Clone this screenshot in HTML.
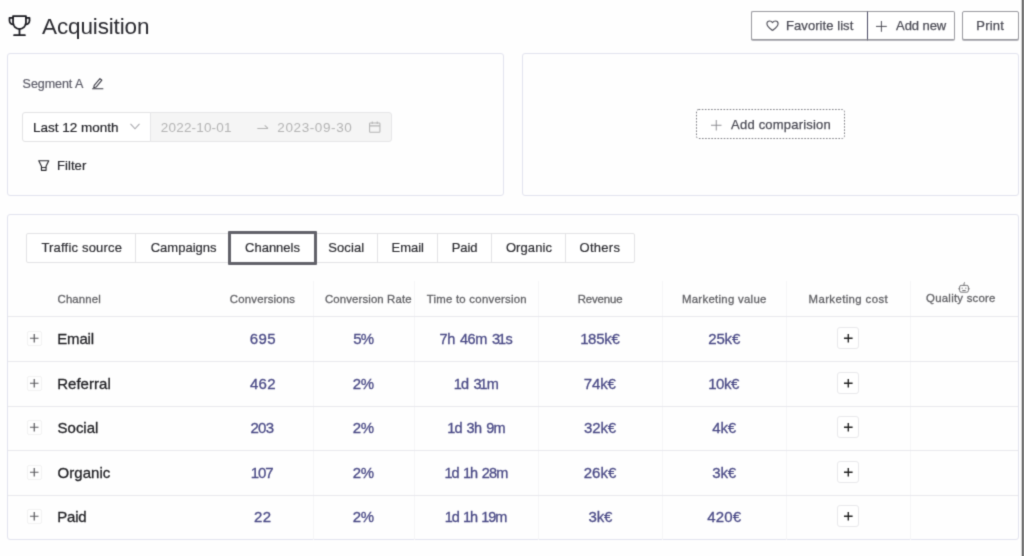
<!DOCTYPE html>
<html lang="en">
<head>
<meta charset="utf-8">
<title>Acquisition</title>
<style>
  * { box-sizing: border-box; margin: 0; padding: 0; }
  html, body { width: 1024px; height: 556px; overflow: hidden; background: #fefefe; }
  body { font-family: "Liberation Sans", sans-serif; color: #222; position: relative; }
  #clip { position: absolute; left: 0; top: 0; width: 1024px; height: 556px; overflow: hidden; }
  #wrap { position: absolute; left: -8px; top: -8px; width: 1040px; height: 572px; background: #fefefe; filter: url(#soft); }
  #in { position: absolute; left: 8px; top: 8px; width: 1024px; height: 556px; }
  .t { position: absolute; white-space: nowrap; line-height: 1; }
  .x { position: relative; }
  svg { position: absolute; overflow: visible; }

  /* right edge bar */
  .edge { position: absolute; left: 1021px; top: -8px; width: 11px; height: 572px; background: linear-gradient(to right, #d9d9d9 0, #d9d9d9 1px, #5c5c5c 1px, #5c5c5c 2px, #858585 2px, #858585 11px); }

  /* header */
  h1 { position: absolute; left: 42px; top: 13.600px; font-size: 22.5px; font-weight: 400; line-height: 26px; color: #2a2a30; white-space: nowrap; }
  .btn { position: absolute; top: 11px; height: 29px; border: 1px solid #98989e; background: #fff; color: #4b4b55; font-size: 13px; box-shadow: 0 1px 0 rgba(110,110,120,.5); -webkit-text-stroke: 0.25px #4b4b55; }
  .btn .bl { position: absolute; top: 6px; line-height: 15px; white-space: nowrap; }
  #b-fav { left: 751px; width: 117px; border-radius: 2px 0 0 2px; border-right-color: #4d4d66; }
  #b-add { left: 867px; width: 88px; border-radius: 0 2px 2px 0; border-left-color: #4d4d66; }
  #b-print { left: 962px; width: 57px; border-radius: 2px; }

  /* cards */
  .card { position: absolute; border: 1px solid #e2e3ee; border-radius: 3px; background: #fefefe; }
  #c1 { left: 7px; top: 53px; width: 497px; height: 143px; }
  #c2 { left: 522px; top: 53px; width: 497px; height: 143px; }
  #c3 { left: 7px; top: 214px; width: 1012px; height: 326px; }

  /* card 1 */
  #seg { left: 15px; top: 24px; font-size: 12.5px; color: #5c5c68; -webkit-text-stroke: 0.2px #5c5c68; }
  #sel { position: absolute; left: 14px; top: 58px; width: 129px; height: 30px; border: 1px solid #e2e2e4; border-radius: 3px 0 0 3px; background: #fff; }
  #sel .t { left: 11px; top: 8px; font-size: 13.5px; color: #26262b; -webkit-text-stroke: 0.2px #26262b; }
  #dates { position: absolute; left: 142px; top: 58px; width: 242px; height: 30px; border: 1px solid #e6e6e8; border-radius: 0 3px 3px 0; background: #f5f5f5; color: #b4b4b4; font-size: 13.5px; }
  #d1 { left: 11px; top: 8px; font-size: 13.5px; }
  #d2 { left: 127px; top: 8px; font-size: 13.5px; }
  #filter { left: 49px; top: 105px; font-size: 13px; color: #2b2b30; -webkit-text-stroke: 0.2px #2b2b30; }

  /* card 2 */
  #cmp { position: absolute; left: 173px; top: 55px; width: 149px; height: 30px; border: 0; border-radius: 3px; background: #fff; color: #4b4b55; font-size: 13px; -webkit-text-stroke: 0.25px #4b4b55; }
  #cmp .t { left: 35px; top: 8.500px; }

  /* tabs */
  #tabs { position: absolute; left: 18px; top: 18px; width: 609px; height: 30px; border: 1px solid #e3e3e5; border-radius: 2px; background: #fff; }
  #tabs div { position: absolute; top: 0; height: 28px; line-height: 28px; font-size: 13px; color: #2e2e33; -webkit-text-stroke: 0.2px #2e2e33; border-left: 1px solid #e3e3e5; white-space: nowrap; text-align: center; }
  #tabs div:first-child { border-left: 0; }
  #tabs div.on { top: -3px; height: 34px; line-height: 28px; border: 3px solid #62626a; border-radius: 1px; background: #fff; z-index: 2; }

  /* table */
  .vline { position: absolute; top: 66px; width: 1px; height: 259px; background: #f5f5f7; }
  .hline { position: absolute; left: 0; width: 1010px; height: 1px; background: #e9e9ed; }
  .th { position: absolute; top: 78px; font-size: 11.4px; color: #626266; -webkit-text-stroke: 0.3px #626266; white-space: nowrap; line-height: 13px; text-align: center; }
  .row { position: absolute; left: 0; width: 1010px; height: 44px; }
  .row .exp { position: absolute; left: 19px; top: 14px; width: 15px; height: 15px; border: 1px solid #f2f2f2; border-radius: 2px; }
  .row .name { position: absolute; left: 49px; top: 13px; font-size: 15px; line-height: 17px; color: #1f1f23; white-space: nowrap; -webkit-text-stroke: 0.3px #1f1f23; }
  .row .v { position: absolute; top: 13px; font-size: 15px; line-height: 17px; color: #4a4a86; white-space: nowrap; text-align: center; -webkit-text-stroke: 0.3px #4a4a86; }
  .row .v.tm { font-size: 14.5px; top: 14px; }
  .row .plus { position: absolute; left: 829px; top: 10px; width: 22px; height: 22px; border: 1px solid #e9e9eb; border-radius: 3px; background: #fff; }
  .o { margin: 0 -0.2px 0 -1.5px; }
  .o.p { margin-left: -0.4px; }
</style>
</head>
<body>
<svg width="0" height="0" style="left:0;top:0" aria-hidden="true">
  <filter id="soft" x="0" y="0" width="100%" height="100%" color-interpolation-filters="sRGB">
    <feConvolveMatrix order="3" kernelMatrix="0.0225 0.105 0.0225 0.105 0.49 0.105 0.0225 0.105 0.0225" edgeMode="duplicate" preserveAlpha="true"/>
  </filter>
</svg>
<div id="clip"><div id="wrap"><div id="in">

<!-- header -->
<svg style="left:6.5px;top:12.5px" width="25" height="25" viewBox="0 0 24 24" fill="none" stroke="#1c1c22" stroke-width="1.700" stroke-linecap="round" stroke-linejoin="round">
  <path d="M5.800 2.900h12.400v6.300a6.200 6.200 0 0 1-12.400 0z"/>
  <path d="M5.800 4.700H2.400v2.400a3.700 3.700 0 0 0 3.800 3.900"/>
  <path d="M18.200 4.700h3.400v2.400a3.700 3.700 0 0 1-3.800 3.900"/>
  <path d="M12 15.400v5.700M6.800 21.300h10.400"/>
</svg>
<h1><span class="x" id="title" style="letter-spacing:-0.13px">Acquisition</span></h1>

<div class="btn" id="b-fav">
  <svg style="left:13.500px;top:7.500px" width="13" height="11.200" viewBox="0 0 14 12" fill="none" stroke="#4b4b55" stroke-width="1.200" stroke-linejoin="round">
    <path d="M7 11.200C4.600 9.300 1 7 1 3.900 1 2.200 2.300 1 3.900 1 5.200 1 6.300 1.700 7 2.800 7.700 1.700 8.800 1 10.100 1 11.700 1 13 2.200 13 3.900 13 7 9.400 9.300 7 11.200z"/>
  </svg>
  <span class="bl" style="left:34px"><span class="x" id="fav" style="letter-spacing:0.07px">Favorite list</span></span>
</div>
<div class="btn" id="b-add">
  <svg style="left:7.600px;top:9.400px" width="10.800" height="10.800" viewBox="0 0 11 11" stroke="#4b4b55" stroke-width="1"><path d="M5.500 0v11M0 5.500h11"/></svg>
  <span class="bl" style="left:28px"><span class="x" id="add" style="letter-spacing:-0.08px;left:0.1px">Add new</span></span>
</div>
<div class="btn" id="b-print"><span class="bl" style="left:14px"><span class="x" id="print" style="letter-spacing:0.18px;left:-0.7px">Print</span></span></div>

<!-- card 1 : segment -->
<div class="card" id="c1">
  <span class="t" id="seg"><span class="x" id="segt" style="letter-spacing:-0.06px;left:-0.4px">Segment A</span></span>
  <svg style="left:84px;top:22.500px" width="11.500" height="12.500" viewBox="0 0 12 13" fill="none" stroke="#3a3a44" stroke-width="1.100" stroke-linejoin="round" stroke-linecap="round">
    <path d="M2.300 8.800 8.300 1.600l2 1.700-6 7.200-2.500.6z"/>
    <path d="M.6 12.300h10.800"/>
  </svg>
  <div id="sel">
    <span class="t"><span class="x" id="last" style="letter-spacing:0.01px;left:-1.1px">Last 12 month</span></span>
    <svg style="left:107px;top:10px" width="10" height="7" viewBox="0 0 10 7" fill="none" stroke="#a9a9ad" stroke-width="1.100"><path d="M.5.800 5 5.800 9.500.8"/></svg>
  </div>
  <div id="dates">
    <span class="t" id="d1"><span class="x" id="date1" style="letter-spacing:0.18px;left:-1.2px">2022-10-01</span></span>
    <svg style="left:106px;top:11.200px" width="11.500" height="6" viewBox="0 0 12 6" fill="none" stroke="#b4b4b4" stroke-width="1.100"><path d="M.3 4.500h11.200M8 1.200l3.500 3.300"/></svg>
    <span class="t" id="d2"><span class="x" id="date2" style="letter-spacing:0.60px;left:-0.7px">2023-09-30</span></span>
    <svg style="left:217.500px;top:8px" width="11.500" height="12" viewBox="0 0 12 12" fill="none" stroke="#b4b4b4" stroke-width="1.100"><rect x=".6" y="1.800" width="10.800" height="9.600" rx=".8"/><path d="M.6 4.800h10.800M3.400.3v2.600M8.600.3v2.600"/></svg>
  </div>
  <svg style="left:29.500px;top:106px" width="11.500" height="11.500" viewBox="0 0 12 12" fill="none" stroke="#2b2b30" stroke-width="1.200" stroke-linejoin="round"><path d="M.8.800h10.400L8.400 6.400v4.400H3.600V6.400z"/><path d="M3.600 7.800h4.800" stroke-width="1"/></svg>
  <span class="t" id="filter"><span class="x" id="filt" style="letter-spacing:0.07px">Filter</span></span>
</div>

<!-- card 2 : comparison -->
<div class="card" id="c2">
  <div id="cmp">
    <svg style="left:0;top:0" width="149" height="30" viewBox="0 0 149 30" fill="none"><rect x=".5" y=".5" width="148" height="29" rx="2.200" stroke="#7e7e84" stroke-width="1" stroke-dasharray="1.600 1.500"/></svg>
    <svg style="left:14.800px;top:11px" width="10.500" height="10.500" viewBox="0 0 11 11" stroke="#8b8b90" stroke-width="1"><path d="M5.500 0v11M0 5.500h11"/></svg>
    <span class="t"><span class="x" id="cmpt" style="letter-spacing:0.20px;left:0.1px">Add comparision</span></span>
  </div>
</div>

<!-- card 3 : table -->
<div class="card" id="c3">
  <div id="tabs">
    <div style="left:0;width:108px"><span class="x" id="tab0" style="letter-spacing:0.20px;left:0.8px">Traffic source</span></div>
    <div style="left:108px;width:94px"><span class="x" id="tab1" style="letter-spacing:0.02px;left:1.1px">Campaigns</span></div>
    <div class="on" style="left:201px;width:89px"><span class="x" id="tab2">Channels</span></div>
    <div style="left:289px;width:61px;border-left:0"><span class="x" id="tab3" style="letter-spacing:0.10px;left:-0.3px">Social</span></div>
    <div style="left:350px;width:60px"><span class="x" id="tab4" style="letter-spacing:-0.03px;left:0.2px">Email</span></div>
    <div style="left:410px;width:54px"><span class="x" id="tab5" style="letter-spacing:-0.09px;left:0.1px">Paid</span></div>
    <div style="left:464px;width:74px"><span class="x" id="tab6" style="letter-spacing:0.10px;left:0.5px">Organic</span></div>
    <div style="left:538px;width:69px"><span class="x" id="tab7" style="letter-spacing:0.26px;left:-0.1px">Others</span></div>
  </div>

  <div class="vline" style="left:305px"></div>
  <div class="vline" style="left:406px"></div>
  <div class="vline" style="left:530px"></div>
  <div class="vline" style="left:654px"></div>
  <div class="vline" style="left:778px"></div>
  <div class="vline" style="left:902px"></div>

  <div class="th" style="left:49px"><span class="x" id="h0" style="letter-spacing:0.15px;left:0.5px">Channel</span></div>
  <div class="th" style="left:204px;width:101px"><span class="x" id="h1" style="letter-spacing:0.18px">Conversions</span></div>
  <div class="th" style="left:317px"><span class="x" id="h2" style="letter-spacing:0.12px">Conversion Rate</span></div>
  <div class="th" style="left:407px;width:123px"><span class="x" id="h3" style="letter-spacing:0.25px;left:0.3px">Time to conversion</span></div>
  <div class="th" style="left:531px;width:123px"><span class="x" id="h4" style="letter-spacing:-0.10px;left:-0.4px">Revenue</span></div>
  <div class="th" style="left:655px;width:123px"><span class="x" id="h5" style="letter-spacing:0.29px;left:-0.2px">Marketing value</span></div>
  <div class="th" style="left:779px;width:123px"><span class="x" id="h6" style="letter-spacing:0.38px;left:-0.2px">Marketing cost</span></div>
  <div class="th" style="left:903px;width:107px;top:77px"><span class="x" id="h7" style="letter-spacing:0.24px;left:-3.6px">Quality score</span></div>
  <svg style="left:950px;top:67px" width="12" height="11" viewBox="0 0 12 11" fill="none" stroke="#66666a" stroke-width=".9" stroke-linejoin="round"><rect x="1.600" y="3.400" width="8.800" height="6.800" rx="1.600"/><path d="M6 3.400V1.200l1-.8M.2 6.800h1.400M10.400 6.800h1.400M4.200 5.600v1.200M7.800 5.600v1.200M4.300 8.500h3.400"/></svg>

  <div class="hline" style="top:101px"></div>
  <div class="hline" style="top:146px"></div>
  <div class="hline" style="top:191px"></div>
  <div class="hline" style="top:235px"></div>
  <div class="hline" style="top:280px"></div>

  <div class="row" style="top:102px">
    <div class="exp"><svg style="left:2.250px;top:2.250px" width="8.500" height="8.500" viewBox="0 0 9 9" stroke="#5c5c60" stroke-width="1.300"><path d="M4.500 0v9M0 4.500h9"/></svg></div>
    <div class="name"><span class="x" id="n0" style="letter-spacing:-0.14px;left:0.2px">Email</span></div>
    <div class="v" style="left:204px;width:101px"><span class="x" id="v00" style="letter-spacing:0.40px;left:0.4px">695</span></div>
    <div class="v" style="left:306px;width:101px"><span class="x" id="v01" style="letter-spacing:-0.96px;left:-1.3px">5%</span></div>
    <div class="v tm" style="left:407px;width:123px"><span class="x" id="v02" style="letter-spacing:-0.46px;left:-0.6px;word-spacing:1.60px">7h 46m 3<span class="o">1</span>s</span></div>
    <div class="v" style="left:531px;width:123px"><span class="x" id="v03" style="letter-spacing:-0.30px;left:0.1px"><span class="o">1</span>85k€</span></div>
    <div class="v" style="left:655px;width:123px"><span class="x" id="v04" style="letter-spacing:-0.13px;left:-0.3px">25k€</span></div>
    <div class="plus"><svg style="left:5.700px;top:5.700px" width="8.600" height="8.600" viewBox="0 0 9 9" stroke="#222" stroke-width="1.450"><path d="M4.500 0v9M0 4.500h9"/></svg></div>
  </div>
  <div class="row" style="top:147px">
    <div class="exp"><svg style="left:2.250px;top:2.250px" width="8.500" height="8.500" viewBox="0 0 9 9" stroke="#5c5c60" stroke-width="1.300"><path d="M4.500 0v9M0 4.500h9"/></svg></div>
    <div class="name"><span class="x" id="n1" style="letter-spacing:0.03px;left:0.2px">Referral</span></div>
    <div class="v" style="left:204px;width:101px"><span class="x" id="v10" style="letter-spacing:0.19px;left:0.4px">462</span></div>
    <div class="v" style="left:306px;width:101px"><span class="x" id="v11" style="letter-spacing:-0.38px;left:-1.3px">2%</span></div>
    <div class="v tm" style="left:407px;width:123px"><span class="x" id="v12" style="letter-spacing:-0.60px;left:0.3px;word-spacing:1.60px"><span class="o">1</span>d 3<span class="o">1</span>m</span></div>
    <div class="v" style="left:531px;width:123px"><span class="x" id="v13" style="letter-spacing:-0.16px;left:-0.7px">74k€</span></div>
    <div class="v" style="left:655px;width:123px"><span class="x" id="v14" style="letter-spacing:-0.43px;left:-0.1px"><span class="o">1</span>0k€</span></div>
    <div class="plus"><svg style="left:5.700px;top:5.700px" width="8.600" height="8.600" viewBox="0 0 9 9" stroke="#222" stroke-width="1.450"><path d="M4.500 0v9M0 4.500h9"/></svg></div>
  </div>
  <div class="row" style="top:191px">
    <div class="exp"><svg style="left:2.250px;top:2.250px" width="8.500" height="8.500" viewBox="0 0 9 9" stroke="#5c5c60" stroke-width="1.300"><path d="M4.500 0v9M0 4.500h9"/></svg></div>
    <div class="name"><span class="x" id="n2" style="letter-spacing:-0.03px;left:0.6px">Social</span></div>
    <div class="v" style="left:204px;width:101px"><span class="x" id="v20" style="letter-spacing:-0.72px;left:-0.6px">203</span></div>
    <div class="v" style="left:306px;width:101px"><span class="x" id="v21" style="letter-spacing:-0.38px;left:-1.3px">2%</span></div>
    <div class="v tm" style="left:407px;width:123px"><span class="x" id="v22" style="letter-spacing:-0.74px;left:0.3px;word-spacing:1.60px"><span class="o">1</span>d 3h 9m</span></div>
    <div class="v" style="left:531px;width:123px"><span class="x" id="v23" style="letter-spacing:-0.09px;left:-0.5px">32k€</span></div>
    <div class="v" style="left:655px;width:123px"><span class="x" id="v24" style="letter-spacing:-0.15px;left:-0.4px">4k€</span></div>
    <div class="plus"><svg style="left:5.700px;top:5.700px" width="8.600" height="8.600" viewBox="0 0 9 9" stroke="#222" stroke-width="1.450"><path d="M4.500 0v9M0 4.500h9"/></svg></div>
  </div>
  <div class="row" style="top:236px">
    <div class="exp"><svg style="left:2.250px;top:2.250px" width="8.500" height="8.500" viewBox="0 0 9 9" stroke="#5c5c60" stroke-width="1.300"><path d="M4.500 0v9M0 4.500h9"/></svg></div>
    <div class="name"><span class="x" id="n3" style="letter-spacing:0.03px;left:0.6px">Organic</span></div>
    <div class="v" style="left:204px;width:101px"><span class="x" id="v30" style="letter-spacing:-1.00px"><span class="o">1</span>07</span></div>
    <div class="v" style="left:306px;width:101px"><span class="x" id="v31" style="letter-spacing:-0.38px;left:-1.3px">2%</span></div>
    <div class="v tm" style="left:407px;width:123px"><span class="x" id="v32" style="letter-spacing:-0.90px;left:0.2px;word-spacing:1.60px"><span class="o">1</span>d <span class="o p">1</span>h 28m</span></div>
    <div class="v" style="left:531px;width:123px"><span class="x" id="v33" style="letter-spacing:-0.04px;left:-0.5px">26k€</span></div>
    <div class="v" style="left:655px;width:123px"><span class="x" id="v34" style="letter-spacing:-0.19px;left:-0.4px">3k€</span></div>
    <div class="plus"><svg style="left:5.700px;top:5.700px" width="8.600" height="8.600" viewBox="0 0 9 9" stroke="#222" stroke-width="1.450"><path d="M4.500 0v9M0 4.500h9"/></svg></div>
  </div>
  <div class="row" style="top:280px">
    <div class="exp"><svg style="left:2.250px;top:2.250px" width="8.500" height="8.500" viewBox="0 0 9 9" stroke="#5c5c60" stroke-width="1.300"><path d="M4.500 0v9M0 4.500h9"/></svg></div>
    <div class="name"><span class="x" id="n4" style="letter-spacing:-0.19px;left:0.2px">Paid</span></div>
    <div class="v" style="left:204px;width:101px"><span class="x" id="v40" style="letter-spacing:0.23px;left:0.2px">22</span></div>
    <div class="v" style="left:306px;width:101px"><span class="x" id="v41" style="letter-spacing:-0.38px;left:-1.3px">2%</span></div>
    <div class="v tm" style="left:407px;width:123px"><span class="x" id="v42" style="letter-spacing:-1.00px;left:-0.2px;word-spacing:1.60px"><span class="o">1</span>d <span class="o p">1</span>h <span class="o p">1</span>9m</span></div>
    <div class="v" style="left:531px;width:123px"><span class="x" id="v43" style="letter-spacing:-0.16px;left:-0.2px">3k€</span></div>
    <div class="v" style="left:655px;width:123px"><span class="x" id="v44" style="letter-spacing:0.12px;left:-0.3px">420€</span></div>
    <div class="plus"><svg style="left:5.700px;top:5.700px" width="8.600" height="8.600" viewBox="0 0 9 9" stroke="#222" stroke-width="1.450"><path d="M4.500 0v9M0 4.500h9"/></svg></div>
  </div>
</div>

<div class="edge"></div>
</div></div></div>
</body>
</html>
